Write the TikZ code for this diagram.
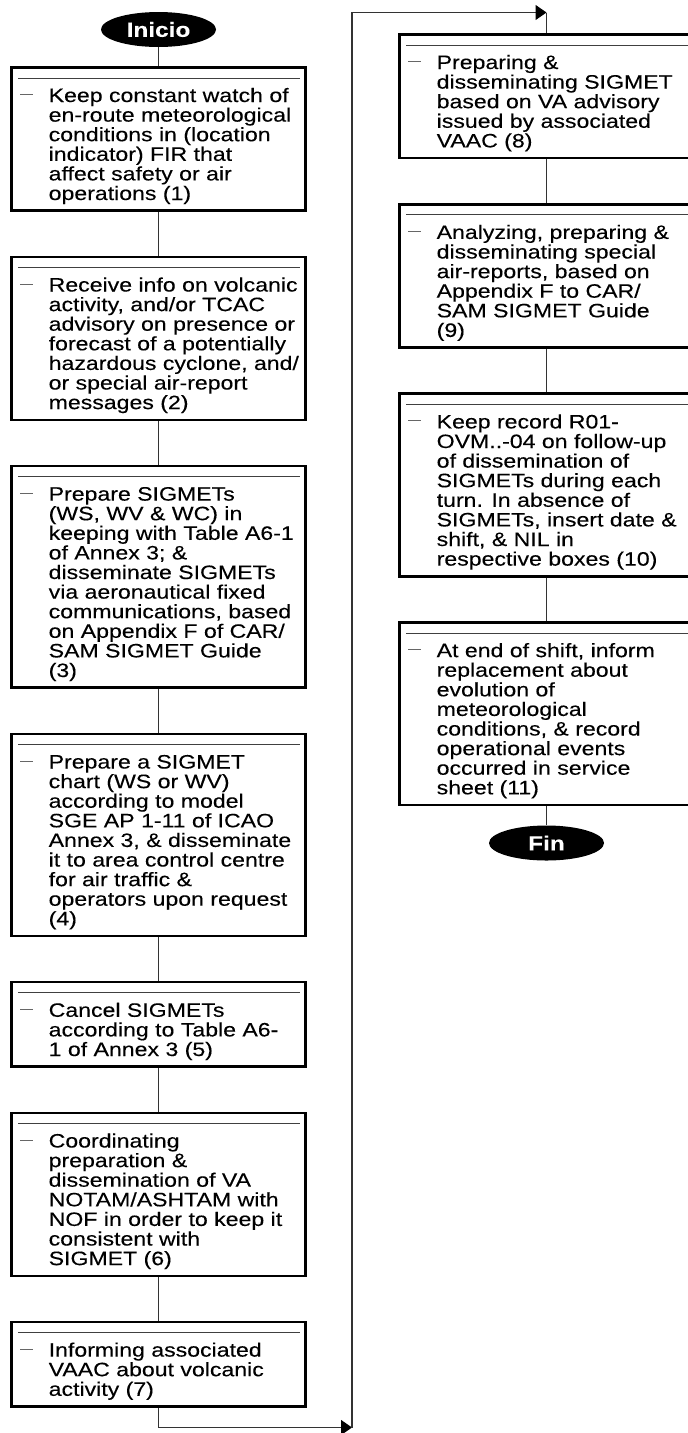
\documentclass[tikz,border=0pt]{standalone}
\usepackage{fontspec}
\setmainfont[FakeStretch=1.19,FakeBold=0.2]{Liberation Sans}
\usetikzlibrary{shapes.geometric,arrows.meta,positioning}
\tikzset{
  procbox/.style={draw=black, line width=2.6pt, fill=white, minimum width=294.4pt, inner sep=0pt},
  innerline/.style={draw=black!75, line width=1pt},
  dashmark/.style={draw=black!60, line width=1pt},
  txt/.style={anchor=base west, inner sep=0pt, font=\fontsize{19.4}{19.6}\selectfont},
  conn/.style={draw=black!80, line width=1.3pt},
  term/.style={ellipse, fill=black, draw=none, minimum width=115pt, minimum height=35pt, inner sep=0pt,
    text=white, font=\fontsize{20.5}{20.5}\selectfont\bfseries},
  tip/.style={-{Triangle[length=11pt,width=15pt,color=black]}}
}
\newcommand\mkbox[4]{%
  \node[procbox, minimum height={45.4pt+(#3-1)*19.6pt}, #2] (#1) {};
  \draw[innerline] ([xshift=8pt,yshift=-12pt]#1.north west) -- ([xshift=-7pt,yshift=-12pt]#1.north east);
  \draw[dashmark] ([xshift=10pt,yshift=-28.5pt]#1.north west) -- ([xshift=23pt,yshift=-28.5pt]#1.north west);
  \node[txt] (#1t) at ([xshift=38.5pt,yshift=-36pt]#1.north west) {\parbox[t]{500pt}{\raggedright #4}};
}
\begin{document}
\begin{tikzpicture}[x=1pt,y=-1pt]
\useasboundingbox (0,0) rectangle (688,1433);
\clip (0,0) rectangle (688,1433);
\fill[white] (0,0) rectangle (688,1433);

\node[term] (inicio) at (158.5,29.5) {Inicio};

\mkbox{b1}{anchor=north, at={(158.5,66)}}{6}{Keep constant watch of\\en-route meteorological\\conditions in (location\\indicator) FIR that\\affect safety or air\\operations (1)}
\mkbox{b2}{below=43.5pt of b1}{7}{Receive info on volcanic\\activity, and/or TCAC\\advisory on presence or\\forecast of a potentially\\hazardous cyclone, and/\\or special air-report\\messages (2)}
\mkbox{b3}{below=43.5pt of b2}{10}{Prepare SIGMETs\\(WS, WV \& WC) in\\keeping with Table A6-1\\of Annex 3; \&\\disseminate SIGMETs\\via aeronautical fixed\\communications, based\\on Appendix F of CAR/\\SAM SIGMET Guide\\(3)}
\mkbox{b4}{below=43.5pt of b3}{9}{Prepare a SIGMET\\chart (WS or WV)\\according to model\\SGE AP 1-11 of ICAO\\Annex 3, \& disseminate\\it to area control centre\\for air traffic \&\\operators upon request\\(4)}
\mkbox{b5}{below=43.5pt of b4}{3}{Cancel SIGMETs\\according to Table A6-\\1 of Annex 3 (5)}
\mkbox{b6}{below=43.5pt of b5}{7}{Coordinating\\preparation \&\\dissemination of VA\\NOTAM/ASHTAM with\\NOF in order to keep it\\consistent with\\SIGMET (6)}
\mkbox{b7}{below=43.5pt of b6}{3}{Informing associated\\VAAC about volcanic\\activity (7)}

\mkbox{b8}{anchor=north, at={(546.5,33)}}{5}{Preparing \&\\disseminating SIGMET\\based on VA advisory\\issued by associated\\VAAC (8)}
\mkbox{b9}{below=43.5pt of b8}{6}{Analyzing, preparing \&\\disseminating special\\air-reports, based on\\Appendix F to CAR/\\SAM SIGMET Guide\\(9)}
\mkbox{b10}{below=43.5pt of b9}{8}{Keep record R01-\\OVM..-04 on follow-up\\of dissemination of\\SIGMETs during each\\turn. In absence of\\SIGMETs, insert date \&\\shift, \& NIL in\\respective boxes (10)}
\mkbox{b11}{below=43.5pt of b10}{8}{At end of shift, inform\\replacement about\\evolution of\\meteorological\\conditions, \& record\\operational events\\occurred in service\\sheet (11)}

\node[term] (fin) at (546.5,843) {Fin};

\coordinate (c1) at (352,1427.5);
\coordinate (c2) at (352,12.5);
\coordinate (c3) at (546.5,12.5);

\draw[conn] (inicio) -- (b1);
\draw[conn] (b1) -- (b2);
\draw[conn] (b2) -- (b3);
\draw[conn] (b3) -- (b4);
\draw[conn] (b4) -- (b5);
\draw[conn] (b5) -- (b6);
\draw[conn] (b6) -- (b7);
\draw[conn,tip] (b7.south) |- (c1);
\draw[conn,tip] (c1) -- (c2) -- (c3);
\draw[conn] (c3) -- (b8.north);
\draw[conn] (b8) -- (b9);
\draw[conn] (b9) -- (b10);
\draw[conn] (b10) -- (b11);
\draw[conn] (b11) -- (fin);
\end{tikzpicture}
\end{document}
